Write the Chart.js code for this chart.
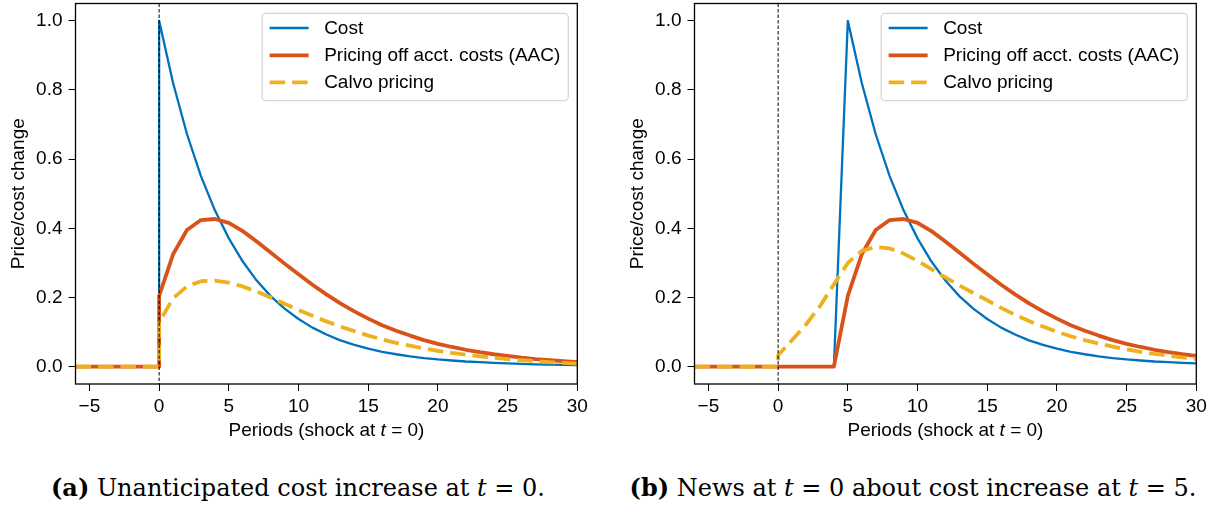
<!DOCTYPE html>
<html>
<head>
<meta charset="utf-8">
<title>Price responses to a cost increase</title>
<script src="https://cdn.jsdelivr.net/npm/chart.js@4.4.1/dist/chart.umd.min.js"></script>
<style>
  html, body { margin: 0; padding: 0; background: #fff; }
  body { position: relative; width: 1219px; height: 508px; overflow: hidden; }
  .panel { position: absolute; top: 0; width: 600px; height: 450px; }
  .panel canvas { position: absolute; left: 0; top: 0; }
  .xtitle {
    position: absolute; left: 75.5px; width: 502px; top: 419px;
    font: 19px "Liberation Sans", Arial, sans-serif; line-height: 22px;
    text-align: center; color: #000; white-space: nowrap;
  }
  .caption {
    position: absolute; top: 473px; width: 700px;
    font: 24px "DejaVu Serif", "Liberation Serif", serif; line-height: 30px;
    text-align: center; color: #000; white-space: nowrap;
  }
</style>
</head>
<body>
<div class="panel" style="left:0px">
  <canvas id="chartA" width="600" height="450"></canvas>
  <div class="xtitle">Periods (shock at <i>t</i> = 0)</div>
</div>
<div class="panel" style="left:619px">
  <canvas id="chartB" width="600" height="450"></canvas>
  <div class="xtitle">Periods (shock at <i>t</i> = 0)</div>
</div>
<div class="caption" style="left:-52px"><b>(a)</b> Unanticipated cost increase at <i>t</i> = 0.</div>
<div class="caption" style="left:563px"><b>(b)</b> News at <i>t</i> = 0 about cost increase at <i>t</i> = 5.</div>

<script>
// Periods on the horizontal axis
const periods = [-6, -5, -4, -3, -2, -1, 0, 1, 2, 3, 4, 5, 6, 7, 8, 9, 10, 11, 12, 13, 14, 15,
                 16, 17, 18, 19, 20, 21, 22, 23, 24, 25, 26, 27, 28, 29, 30];
const shockPeriod = 0;

const xTickValues = [-5, 0, 5, 10, 15, 20, 25, 30];
const yTickValues = [0, 0.2, 0.4, 0.6, 0.8, 1.0];

const seriesNames = ['Cost', 'Pricing off acct. costs (AAC)', 'Calvo pricing'];

// (a) Unanticipated cost increase at t = 0
const costA  = [0, 0, 0, 0, 0, 0,
  1.000, 0.820, 0.672, 0.551, 0.452, 0.371, 0.304, 0.249, 0.204, 0.168, 0.138, 0.113, 0.093,
  0.076, 0.063, 0.052, 0.043, 0.036, 0.030, 0.025, 0.021, 0.018, 0.015, 0.013, 0.011, 0.0095,
  0.008, 0.007, 0.006, 0.005, 0.0045];
const aacA   = [0, 0, 0, 0, 0, 0,
  0.205, 0.325, 0.395, 0.424, 0.427, 0.416, 0.392, 0.362, 0.330, 0.298, 0.267, 0.237, 0.209,
  0.183, 0.160, 0.139, 0.120, 0.104, 0.090, 0.077, 0.066, 0.057, 0.049, 0.042, 0.036, 0.031,
  0.026, 0.022, 0.019, 0.016, 0.013];
const calvoA = [0, 0, 0, 0, 0, 0,
  0.128, 0.198, 0.232, 0.247, 0.249, 0.243, 0.232, 0.217, 0.200, 0.182, 0.164, 0.147, 0.131,
  0.116, 0.103, 0.090, 0.079, 0.069, 0.061, 0.053, 0.046, 0.040, 0.035, 0.030, 0.026, 0.022,
  0.019, 0.016, 0.013, 0.011, 0.009];

// (b) News at t = 0 about a cost increase at t = 5
const costB  = [0, 0, 0, 0, 0, 0,
  0, 0, 0, 0, 0, 1.000, 0.820, 0.672, 0.551, 0.452, 0.371, 0.304, 0.249, 0.204, 0.168, 0.138,
  0.113, 0.093, 0.076, 0.063, 0.052, 0.043, 0.036, 0.030, 0.025, 0.021, 0.018, 0.015, 0.013,
  0.011, 0.0095];
const aacB   = [0, 0, 0, 0, 0, 0,
  0, 0, 0, 0, 0, 0.205, 0.325, 0.395, 0.424, 0.427, 0.416, 0.392, 0.362, 0.330, 0.298, 0.267,
  0.237, 0.209, 0.183, 0.160, 0.139, 0.120, 0.104, 0.090, 0.077, 0.066, 0.057, 0.049, 0.042,
  0.036, 0.031];
const calvoB = [0, 0, 0, 0, 0, 0,
  0.033, 0.077, 0.122, 0.175, 0.238, 0.300, 0.335, 0.346, 0.342, 0.327, 0.306, 0.282, 0.258,
  0.235, 0.213, 0.192, 0.170, 0.150, 0.132, 0.116, 0.101, 0.088, 0.077, 0.067, 0.058, 0.050,
  0.043, 0.037, 0.032, 0.027, 0.023];

const FONT = '"Liberation Sans", Arial, sans-serif';
const seriesStyles = [
  { color: '#0072BD', width: 2.3, dash: [] },
  { color: '#D95319', width: 3.8, dash: [] },
  { color: '#EDB120', width: 3.8, dash: [15.5, 7] }
];

// Every series sits at zero until the shock, so the step at t = 0 is drawn vertically.
function toPoints(values) {
  const pts = [];
  periods.forEach((t, i) => {
    if (t === shockPeriod) pts.push({ x: t, y: 0 });
    pts.push({ x: t, y: values[i] });
  });
  return pts;
}

// Full box around the plot, dashed marker at the shock period, and the framed legend.
const framePlugin = {
  id: 'frameAndMarker',
  afterDatasetsDraw(chart) {
    const { ctx, chartArea: a, scales } = chart;
    const x0 = scales.x.getPixelForValue(shockPeriod);
    ctx.save();
    ctx.strokeStyle = '#000';
    ctx.lineWidth = 1;
    ctx.setLineDash([3.5, 2]);
    ctx.beginPath();
    ctx.moveTo(x0, a.top);
    ctx.lineTo(x0, a.bottom);
    ctx.stroke();
    ctx.setLineDash([]);
    ctx.lineWidth = 1.3;
    ctx.strokeRect(a.left, a.top, a.right - a.left, a.bottom - a.top);
    ctx.restore();
  },
  afterDraw(chart) {
    const { ctx, chartArea: a } = chart;
    ctx.save();
    ctx.font = '19px ' + FONT;
    const textW = Math.max(...seriesNames.map(n => ctx.measureText(n).width));
    const w = 62 + textW + 8, h = 87.4;
    const x = a.right - 9 - w, y = a.top + 9.8;
    ctx.beginPath();
    ctx.roundRect(x, y, w, h, 4);
    ctx.fillStyle = 'rgba(255,255,255,0.85)';
    ctx.fill();
    ctx.strokeStyle = '#d6d6d6';
    ctx.lineWidth = 1.2;
    ctx.stroke();
    const rows = [14.7, 42, 69];
    seriesNames.forEach((name, i) => {
      const st = seriesStyles[i];
      const ry = y + rows[i];
      ctx.strokeStyle = st.color;
      ctx.lineWidth = st.width;
      ctx.lineCap = 'butt';
      ctx.setLineDash(st.dash);
      ctx.beginPath();
      ctx.moveTo(x + 7.5, ry);
      ctx.lineTo(x + 46.5, ry);
      ctx.stroke();
      ctx.setLineDash([]);
      ctx.fillStyle = '#000';
      ctx.textBaseline = 'middle';
      ctx.textAlign = 'left';
      ctx.fillText(name, x + 62, ry + 0.5);
    });
    ctx.restore();
  }
};

function makePanel(canvasId, seriesValues) {
  const datasets = seriesValues.map((vals, i) => ({
    label: seriesNames[i],
    data: toPoints(vals),
    borderColor: seriesStyles[i].color,
    backgroundColor: seriesStyles[i].color,
    borderWidth: seriesStyles[i].width,
    borderDash: seriesStyles[i].dash,
    borderCapStyle: 'butt',
    borderJoinStyle: 'round',
    pointRadius: 0,
    tension: 0,
    fill: false,
    order: 3 - i
  }));

  return new Chart(document.getElementById(canvasId), {
    type: 'line',
    data: { datasets },
    plugins: [framePlugin],
    options: {
      responsive: false,
      animation: false,
      devicePixelRatio: 1,
      layout: { padding: { left: 0, right: 22.7, top: 3.5, bottom: 0 } },
      plugins: { legend: { display: false }, tooltip: { enabled: false } },
      scales: {
        x: {
          type: 'linear',
          min: -6, max: 30,
          afterBuildTicks: s => { s.ticks = xTickValues.map(v => ({ value: v })); },
          afterFit: s => { s.height = 66; s.paddingLeft = 0; s.paddingRight = 0; },
          grid: { display: true, drawOnChartArea: false, drawTicks: true, tickLength: 7,
                  tickWidth: 1, tickColor: '#000' },
          border: { display: false },
          ticks: {
            color: '#000', padding: 4, maxRotation: 0, autoSkip: false,
            font: { family: FONT, size: 19 },
            callback: v => (v < 0 ? '\u2212' + Math.abs(v) : String(v))
          }
        },
        y: {
          type: 'linear',
          min: -0.05, max: 1.05,
          afterBuildTicks: s => { s.ticks = yTickValues.map(v => ({ value: v })); },
          afterFit: s => { s.width = 75.5; s.paddingTop = 0; s.paddingBottom = 0; },
          grid: { display: true, drawOnChartArea: false, drawTicks: true, tickLength: 7,
                  tickWidth: 1, tickColor: '#000' },
          border: { display: false },
          title: {
            display: true, text: 'Price/cost change', color: '#000',
            font: { family: FONT, size: 19 }, padding: { top: 7, bottom: 0 }
          },
          ticks: {
            color: '#000', padding: 6, autoSkip: false,
            font: { family: FONT, size: 19 },
            callback: v => Number(v).toFixed(1)
          }
        }
      }
    }
  });
}

makePanel('chartA', [costA, aacA, calvoA]);
makePanel('chartB', [costB, aacB, calvoB]);
</script>
</body>
</html>
